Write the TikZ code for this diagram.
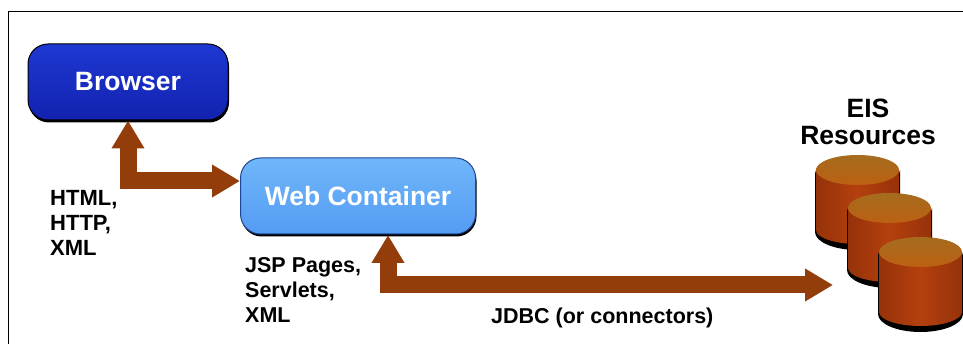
\documentclass[tikz,border=0pt]{standalone}
\usepackage{fontspec}
\setmainfont{Liberation Sans}
\usetikzlibrary{arrows.meta,shadows}

\definecolor{flowbrown}{RGB}{147,62,10}
\definecolor{browsertop}{RGB}{30,56,210}
\definecolor{browserbot}{RGB}{18,34,175}
\definecolor{webtop}{RGB}{112,182,250}
\definecolor{webbot}{RGB}{84,156,243}
\definecolor{webedge}{RGB}{30,70,150}
\definecolor{diskedge}{RGB}{150,50,10}
\definecolor{diskside}{RGB}{180,64,14}
\definecolor{disktopa}{RGB}{165,108,30}
\definecolor{disktopb}{RGB}{188,96,18}

\tikzset{
  boxnode/.style = {draw=black, line width=1pt, rounded corners=20pt, text=white,
    font=\bfseries\fontsize{26.5}{30}\selectfont, inner sep=0pt,
    drop shadow={shadow xshift=1pt, shadow yshift=-2.5pt, fill=black, opacity=1}},
  lbl/.style = {font=\bfseries\fontsize{21.5}{25}\selectfont, align=left, inner sep=0pt, anchor=north west},
  flow/.style = {draw=flowbrown, line width=17pt, line join=miter,
    {Triangle[length=28pt,width=31pt]}-{Triangle[length=28pt,width=31pt]}},
}

% one disk, x y = top left corner of its outline
\newcommand{\disk}[2]{
  \fill[black] (#1-1,#2+15) -- (#1-1,#2+77) arc[start angle=180,end angle=0,x radius=42.5,y radius=18]
    -- (#1+84,#2+15) arc[start angle=0,end angle=180,x radius=42.5,y radius=16] -- cycle;
  \shade[left color=diskedge, right color=diskedge, middle color=diskside] (#1,#2+15) -- (#1,#2+75)
    arc[start angle=180,end angle=0,x radius=41.5,y radius=14] -- (#1+83,#2+15) -- cycle;
  \shade[top color=disktopa, bottom color=disktopb] (#1+41.5,#2+15) ellipse[x radius=41.5,y radius=15];
}

\begin{document}
\begin{tikzpicture}[x=1pt,y=-1pt]

\useasboundingbox (0,0) rectangle (963,344);
\fill[white] (0,0) rectangle (963,344);
\draw[line width=1.5pt] (8.5,344) -- (8.5,11.5) -- (963,11.5);

\node[boxnode, top color=browsertop, bottom color=browserbot, minimum width=200pt, minimum height=76pt] (browser) at (128,82) {Browser};
\node[boxnode, draw=webedge, top color=webtop, bottom color=webbot, minimum width=235pt, minimum height=76pt] (web) at (358,196) {Web Container};

\disk{816}{155}
\disk{848}{193}
\disk{879}{237}

\coordinate (webin) at (240,181);
\coordinate (webport) at (388,235);
\coordinate (eisport) at (833,285);

\draw[flow] (browser.south) |- (webin);
\draw[flow] (webport) |- (eisport);

\node[lbl, font=\bfseries\fontsize{22}{25}\selectfont] (htmllbl) at (50,190) {HTML,\\HTTP,\\XML};
\node[lbl] (jsplbl) at (245,257.5) {JSP Pages,\\Servlets,\\XML};
\node[lbl] (jdbclbl) at (491,308) {JDBC (or connectors)};
\node[font=\bfseries\fontsize{26.5}{27}\selectfont, align=center, inner sep=0pt] (eislbl) at (868,122) {EIS\\Resources};

\end{tikzpicture}
\end{document}
